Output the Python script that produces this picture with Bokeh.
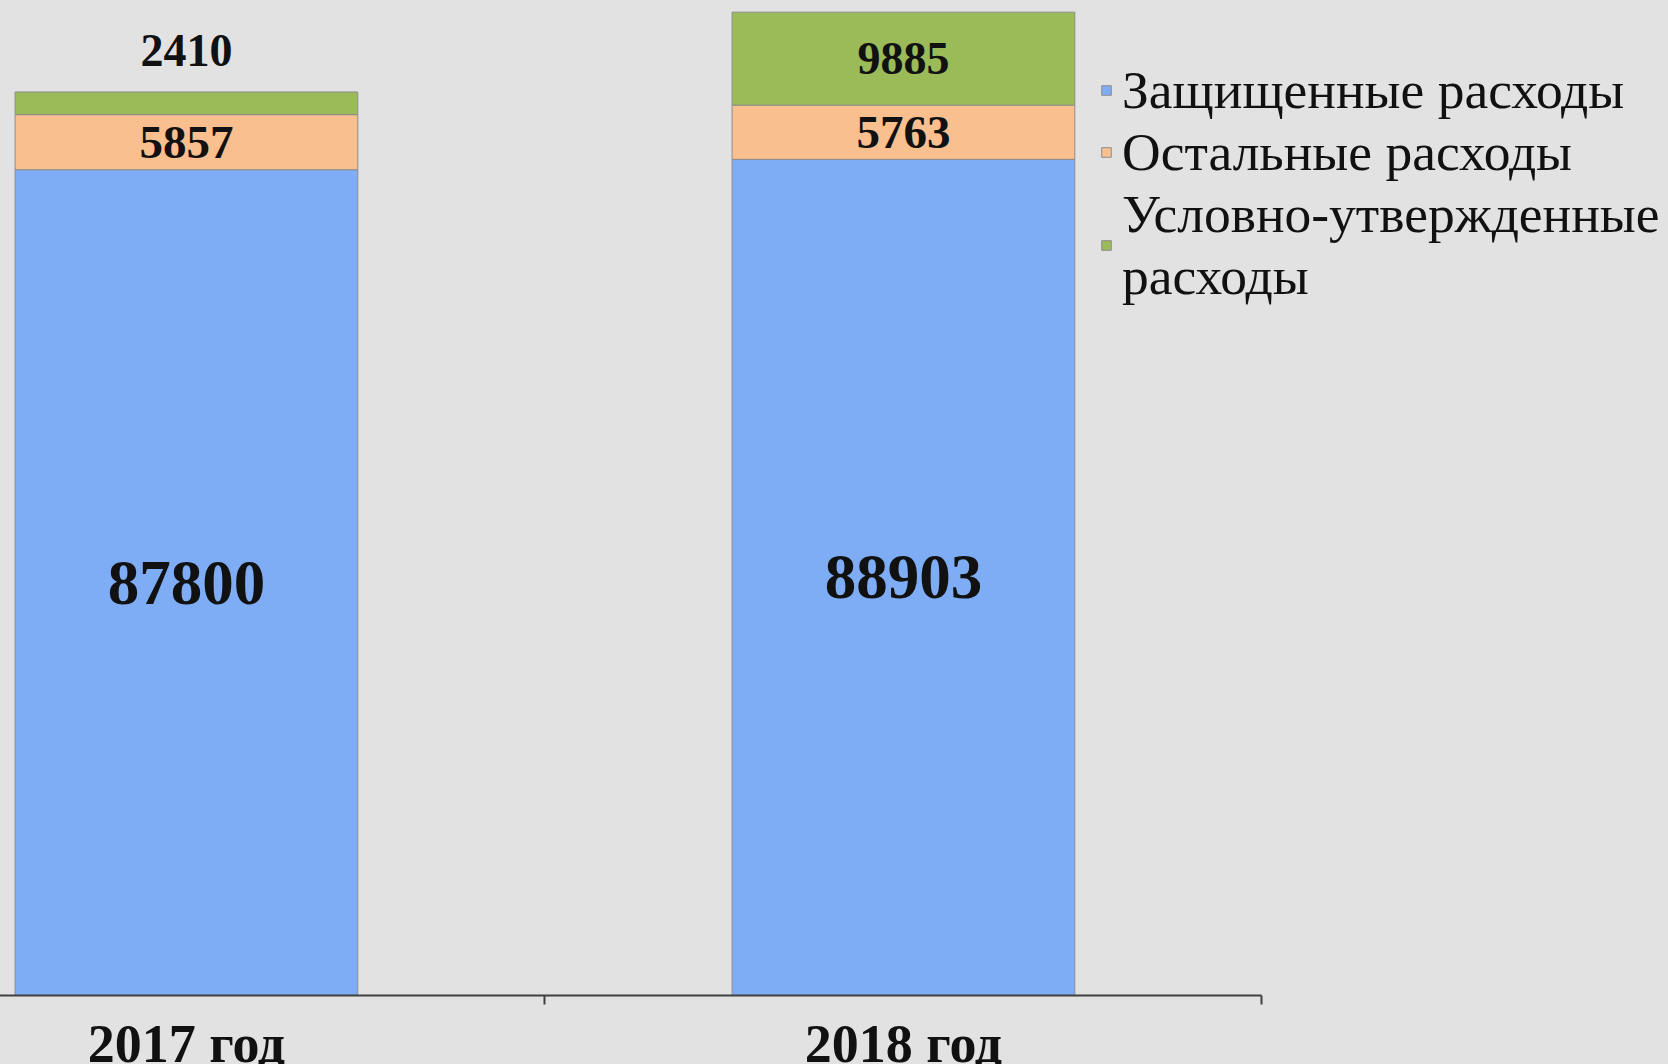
from bokeh.plotting import figure
from bokeh.layouts import column
from bokeh.models import ColumnDataSource, FixedTicker, Legend, LegendItem, Label, Range1d
from bokeh.core.properties import value
from bokeh.embed import file_html
from bokeh.resources import INLINE

# ---- data ----
years = ["2017 год", "2018 год"]
protected = [87800, 88903]
other = [5857, 5763]
conditional = [2410, 9885]
series_names = ["Защищенные расходы", "Остальные расходы", "Условно-утвержденные\nрасходы"]
slide_number = "10"

colors = ["#7eadf5", "#f9bf8f", "#9bbb59"]
bg = "#e2e2e2"
FONT = "Liberation Serif"

VW, VH = 1676, 1072          # visible slide area (column clips the overflow)
W, H = VW, 1084
x = [i + 0.5 for i in range(len(years))]
x_start = 0.2295
x_end = x_start + W / 717.0

totals = [a + b + c for a, b, c in zip(protected, other, conditional)]
src = ColumnDataSource(dict(
    x=x, protected=protected, other=other, conditional=conditional,
    y_prot=[v / 2 for v in protected],
    y_other=[a + b / 2 for a, b in zip(protected, other)],
    y_cond=[t if c < 5000 else a + b + c / 2 for t, a, b, c in zip(totals, protected, other, conditional)],
    off_cond=[-41 if c < 5000 else 0 for c in conditional],
    t_prot=[str(v) for v in protected],
    t_other=[str(v) for v in other],
    t_cond=[str(v) for v in conditional],
))

p = figure(width=W, height=H, output_backend="svg", toolbar_location=None,
           x_range=Range1d(x_start, x_end), y_range=Range1d(0, 106642),
           min_border_left=0, min_border_right=0, min_border_top=0, min_border_bottom=0,
           background_fill_color=bg, border_fill_color=bg, outline_line_color=None,
           styles={"flex-shrink": "0", "min-height": f"{H}px"})
p.yaxis.visible = False
p.grid.visible = False

renderers = p.vbar_stack(["protected", "other", "conditional"], x="x", width=0.478, source=src,
                         color=colors, line_color="#8c8c8c", line_width=1)

common = dict(source=src, text_font=value(FONT), text_font_style="bold", text_color="#111111",
              text_align="center", text_baseline="middle")
p.text(x="x", y="y_prot", text="t_prot", text_font_size="63px", **common)
p.text(x="x", y="y_other", text="t_other", text_font_size="47px", **common)
p.text(x="x", y="y_cond", text="t_cond", y_offset="off_cond", text_font_size="46px", **common)

ax = p.xaxis[0]
ax.ticker = FixedTicker(ticks=x, minor_ticks=list(range(len(years) + 1)))
ax.major_label_overrides = {xi: y for xi, y in zip(x, years)}
ax.bounds = (x_start, len(years))
ax.major_tick_line_color = None
ax.major_tick_out = 0
ax.major_tick_in = 0
ax.minor_tick_in = 0
ax.minor_tick_out = 9
ax.minor_tick_line_color = "#404040"
ax.minor_tick_line_width = 2
ax.axis_line_color = "#404040"
ax.axis_line_width = 2
ax.major_label_text_font = FONT
ax.major_label_text_font_style = "bold"
ax.major_label_text_font_size = "54px"
ax.major_label_text_color = "#111111"
ax.major_label_standoff = 9

legend = Legend(items=[LegendItem(label=n, renderers=[r]) for n, r in zip(series_names, renderers)],
                location=(1108, 688), label_text_font=FONT, label_text_font_size="53.5px",
                label_text_color="#111111", glyph_width=12, glyph_height=12, label_standoff=10,
                spacing=0, padding=0, margin=0, border_line_color=None, background_fill_alpha=0,
                label_text_line_height=1.3)
p.add_layout(legend)

p.add_layout(Label(x=1646, y=-52, x_units="screen", y_units="screen", text=slide_number,
                   text_color="#d42020", text_font=FONT, text_font_size="28px",
                   text_baseline="top"))

page = column(p, width=VW, height=VH,
              styles={"overflow": "hidden", "margin": "-8px", "background-color": bg})

open("out.html", "w").write(file_html(page, INLINE))
